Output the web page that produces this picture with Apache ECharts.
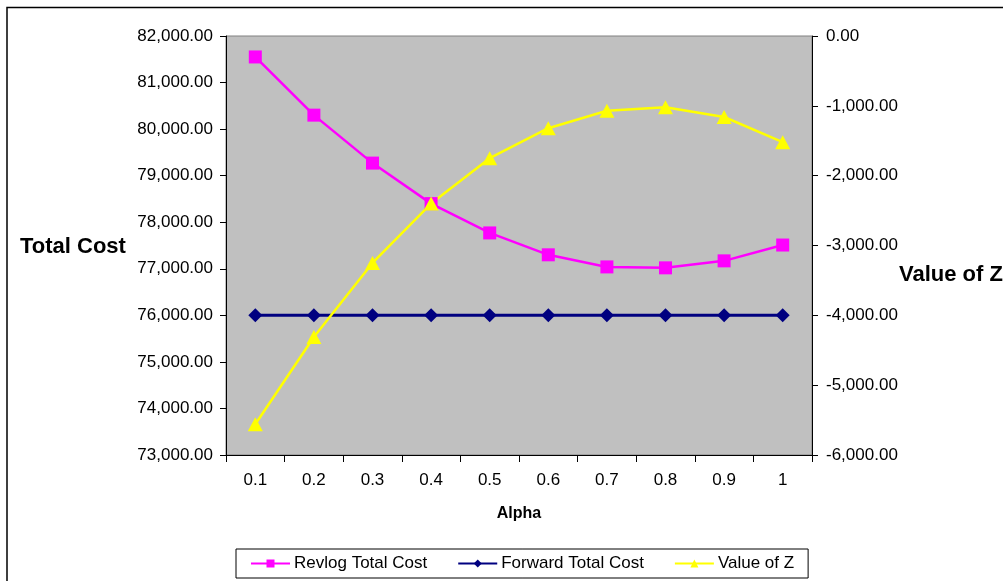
<!DOCTYPE html>
<html>
<head>
<meta charset="utf-8">
<script src="https://cdn.jsdelivr.net/npm/echarts@6/dist/echarts.min.js"></script>
<style>
html,body{margin:0;padding:0;background:#fff;}
#chart{width:1003px;height:581px;}
</style>
</head>
<body>
<div id="chart"></div>
<script>
var categories = ['0.1','0.2','0.3','0.4','0.5','0.6','0.7','0.8','0.9','1'];
var revlogTotalCost = [81550, 80300, 79270, 78400, 77770, 77300, 77040, 77020, 77170, 77510];
var forwardTotalCost = [76000, 76000, 76000, 76000, 76000, 76000, 76000, 76000, 76000, 76000];
var valueOfZ = [-5560, -4310, -3250, -2400, -1750, -1320, -1070, -1020, -1160, -1520];

var font = 'Arial, "Liberation Sans", sans-serif';
var fmt = function (v) {
  return v.toLocaleString('en-US', {minimumFractionDigits: 2, maximumFractionDigits: 2});
};

var chart = echarts.init(document.getElementById('chart'));
chart.setOption({
  animation: false,
  backgroundColor: '#ffffff',
  textStyle: {fontFamily: font},
  graphic: [
    {type: 'rect', shape: {x: 7, y: 7.5, width: 1010, height: 600},
     style: {fill: 'none', stroke: '#000', lineWidth: 1.5}, z: -1, silent: true},
    {type: 'text', x: 20, y: 247,
     style: {text: 'Total Cost', font: 'bold 22px ' + font, fill: '#000', textVerticalAlign: 'middle'}},
    {type: 'text', x: 899, y: 275,
     style: {text: 'Value of Z', font: 'bold 22px ' + font, fill: '#000', textVerticalAlign: 'middle'}}
  ],
  grid: {left: 226, right: 191, top: 36, bottom: 126, show: true,
         backgroundColor: '#c0c0c0', borderColor: '#808080', borderWidth: 1},
  legend: {
    bottom: 3, left: 236,
    itemGap: 30, itemWidth: 39, itemHeight: 10,
    padding: [6, 14, 6, 14],
    borderColor: '#000', borderWidth: 1, backgroundColor: '#fff',
    textStyle: {fontFamily: font, fontSize: 17, color: '#000', padding: [0, 0, 0, -1]},
    data: ['Revlog Total Cost', 'Forward Total Cost', 'Value of Z']
  },
  xAxis: {
    type: 'category', data: categories, boundaryGap: true,
    name: 'Alpha', nameLocation: 'middle', nameGap: 51,
    nameTextStyle: {fontFamily: font, fontSize: 16, fontWeight: 'bold', color: '#000'},
    axisLine: {onZero: false, lineStyle: {color: '#000', width: 1}},
    axisTick: {show: true, length: 7, lineStyle: {color: '#000'}},
    axisLabel: {fontSize: 17, color: '#000', margin: 17}
  },
  yAxis: [
    {
      type: 'value', min: 73000, max: 82000, interval: 1000, position: 'left',
      axisLine: {show: true, lineStyle: {color: '#000'}},
      axisTick: {show: true, length: 6, lineStyle: {color: '#000'}},
      axisLabel: {fontSize: 17, color: '#000', margin: 13, formatter: fmt},
      splitLine: {show: false}
    },
    {
      type: 'value', min: -6000, max: 0, interval: 1000, position: 'right',
      axisLine: {show: true, lineStyle: {color: '#000'}},
      axisTick: {show: true, length: 6, lineStyle: {color: '#000'}},
      axisLabel: {fontSize: 17, color: '#000', margin: 14, formatter: fmt},
      splitLine: {show: false}
    }
  ],
  series: [
    {
      name: 'Revlog Total Cost', type: 'line', yAxisIndex: 0, data: revlogTotalCost,
      symbol: 'rect', symbolSize: 13,
      lineStyle: {color: '#ff00ff', width: 2.5}, itemStyle: {color: '#ff00ff'}
    },
    {
      name: 'Forward Total Cost', type: 'line', yAxisIndex: 0, data: forwardTotalCost,
      symbol: 'diamond', symbolSize: [14, 14],
      lineStyle: {color: '#000080', width: 3}, itemStyle: {color: '#000080'}
    },
    {
      name: 'Value of Z', type: 'line', yAxisIndex: 1, data: valueOfZ,
      symbol: 'triangle', symbolSize: [15, 14],
      lineStyle: {color: '#ffff00', width: 2.5}, itemStyle: {color: '#ffff00'}
    }
  ]
});
</script>
</body>
</html>
